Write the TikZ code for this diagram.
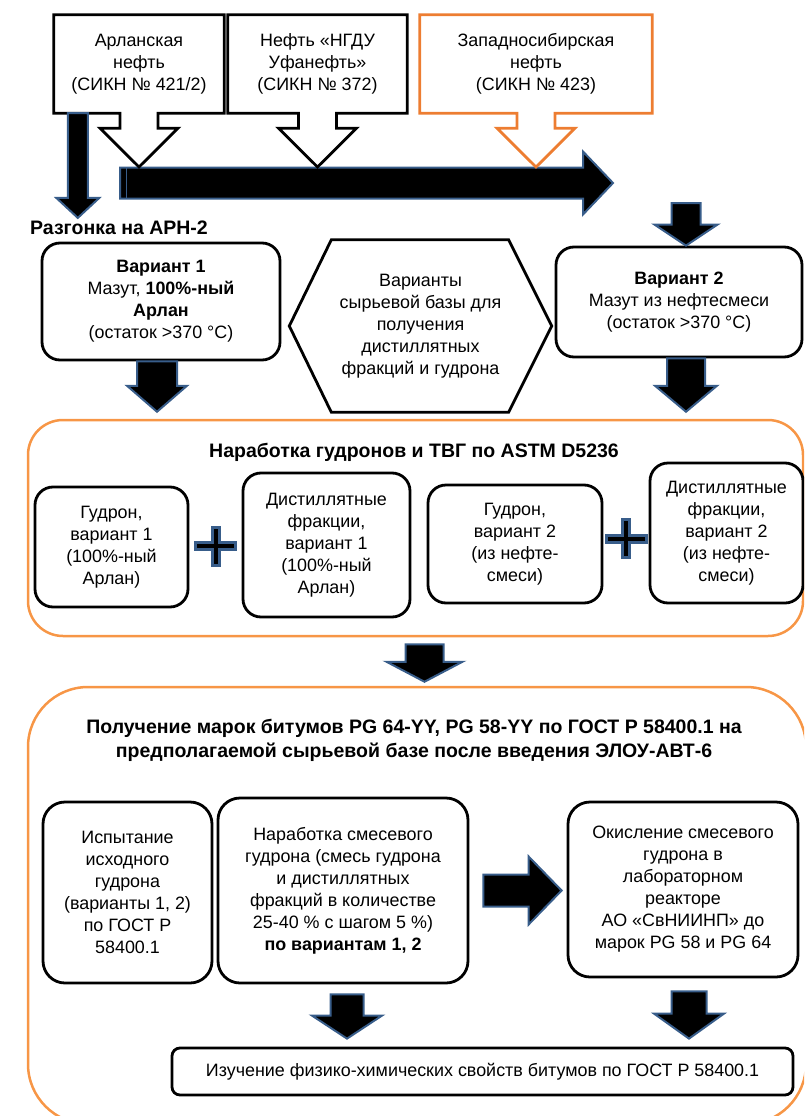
\documentclass[tikz,border=0pt]{standalone}
\usepackage{fontspec}
\setmainfont{Liberation Sans}
\usepackage{xcolor}
\usepackage{tikz}
\usetikzlibrary{positioning,calc}

\definecolor{arrblue}{RGB}{56,93,138}
\definecolor{boxorange}{RGB}{237,125,49}
\definecolor{contorange}{RGB}{247,150,70}

\newcommand{\fatdown}[5]{\draw[fatarr] let \p1=#1,\p2=#2 in (\x1-#3,\y1)--(\x1+#3,\y1)--(\x1+#3,\y2+#5)--(\x1+#4,\y2+#5)--(\x1,\y2)--(\x1-#4,\y2+#5)--(\x1-#3,\y2+#5)--cycle;}
\newcommand{\fatright}[5]{\draw[fatarr] let \p1=#1,\p2=#2 in (\x1,\y1+#3)--(\x2-#5,\y1+#3)--(\x2-#5,\y1+#4)--(\x2,\y1)--(\x2-#5,\y1-#4)--(\x2-#5,\y1-#3)--(\x1,\y1-#3)--cycle;}
\newcommand{\callout}[3]{\draw[#1] let \p1=(#2.south),\p2=#3,\p3=(#2.north west),\p4=(#2.south east) in (\x3,\y3)--(\x4,\y3)--(\x4,\y4)--(\x1+19pt,\y4)--(\x1+19pt,\y4-15pt)--(\x1+39pt,\y4-15pt)--(\x1,\y2)--(\x1-39pt,\y4-15pt)--(\x1-19pt,\y4-15pt)--(\x1-19pt,\y4)--(\x3,\y4)--cycle;}
\newcommand{\plussign}[1]{\draw[plusst] let \p1=#1 in (\x1-3.5pt,\y1-19pt)--(\x1+3.5pt,\y1-19pt)--(\x1+3.5pt,\y1-3.5pt)--(\x1+20pt,\y1-3.5pt)--(\x1+20pt,\y1+3.5pt)--(\x1+3.5pt,\y1+3.5pt)--(\x1+3.5pt,\y1+19pt)--(\x1-3.5pt,\y1+19pt)--(\x1-3.5pt,\y1+3.5pt)--(\x1-20pt,\y1+3.5pt)--(\x1-20pt,\y1-3.5pt)--(\x1-3.5pt,\y1-3.5pt)--cycle;}

\begin{document}
\begin{tikzpicture}[x=1pt,y=-1pt,every node/.style={font=\fontsize{17.9}{22}\selectfont,align=center,inner sep=0pt}]
\tikzstyle{fatarr}=[fill=black,draw=arrblue,line width=2pt,line join=miter]
\tikzstyle{plusst}=[fill=black,draw=arrblue,line width=3pt]
\tikzstyle{topbox}=[minimum height=98pt]
\tikzstyle{callst}=[draw=black,line width=2.8pt]
\tikzstyle{callor}=[draw=boxorange,line width=2.8pt]
\tikzstyle{rbox}=[draw,line width=2.8pt,rounded corners=18pt]
\tikzstyle{cont}=[draw=contorange,line width=2.5pt]
\tikzstyle{ttl}=[font=\fontsize{19.5}{24}\selectfont\bfseries]
\useasboundingbox (0,0) rectangle (804,1116);
\clip (0,0) rectangle (804,1116);

\node[cont,rounded corners=35pt,minimum width=775pt,minimum height=216pt] (cont1) at (415.5,528) {};
\node[cont,rounded corners=60pt,minimum width=778pt,minimum height=437pt] (cont2) at (417,905.5) {};

\node[topbox,minimum width=170pt] (arl) at (139,64) {Арланская\\нефть\\(СИКН № 421/2)};
\node[topbox,minimum width=179pt] (ufa) at (317.5,64) {Нефть «НГДУ\\Уфанефть»\\(СИКН № 372)};
\node[topbox,minimum width=232pt] (zsib) at (536,64) {Западносибирская\\нефть\\(СИКН № 423)};
\coordinate (mainL) at (120,183);
\coordinate (mainR) at (613,183);
\coordinate (v2in) at (686,203);
\fatright{(mainL)}{(mainR)}{15.5pt}{31.5pt}{30pt}
\draw[arrblue,line width=1pt] ($(mainL)+(6,-15)$) -- ($(mainL)+(6,15)$);
\callout{callst}{arl}{($(mainL)+(0,-16)$)}
\callout{callst}{ufa}{($(mainL)+(0,-16)$)}
\callout{callor}{zsib}{($(mainL)+(0,-16)$)}

\node[ttl,anchor=west] (razg) at (30,228) {Разгонка на АРН-2};
\fatdown{($(arl.south west)+(24,0)$)}{($(razg.north west)+(0,-3)$)}{10pt}{21.5pt}{20pt}

\node[rbox,minimum width=238pt,minimum height=117pt] (var1) at (161,301.5) {\textbf{Вариант 1}\\Мазут, \textbf{100\%-ный}\\\textbf{Арлан}\\(остаток >370 °C)};
\node[minimum width=262pt,minimum height=172pt] (hexa) at (420.5,326) {Варианты\\сырьевой базы для\\получения\\дистиллятных\\фракций и гудрона};
\draw[line width=2.8pt] let \p1=(hexa.north west),\p2=(hexa.south east),\p3=(hexa.west),\p4=(hexa.east) in (\x1+42pt,\y1)--(\x2-43pt,\y1)--(\x4,\y4)--(\x2-43pt,\y2)--(\x1+42pt,\y2)--(\x3,\y3)--cycle;
\node[rbox,minimum width=246pt,minimum height=110pt] (var2) at (679,302) {\textbf{Вариант 2}\\Мазут из нефтесмеси\\(остаток >370 °C)};
\fatdown{(v2in)}{(var2.north)}{14.5pt}{31.5pt}{21pt}

\node[ttl] (t1) at (414,452) {Наработка гудронов и ТВГ по ASTM D5236};
\fatdown{($(var1.south)+(-4,0)$)}{($(cont1.north)+(0,-7)$)}{20pt}{30pt}{26pt}
\fatdown{($(var2.south)+(7,0)$)}{($(cont1.north)+(0,-7)$)}{19pt}{31pt}{26pt}

\node[rbox,minimum width=153pt,minimum height=120pt] (g1) at (111.5,547) {Гудрон,\\вариант 1\\(100\%-ный\\Арлан)};
\node[rbox,minimum width=167pt,minimum height=144pt] (d1) at (326.5,545) {Дистиллятные\\фракции,\\вариант 1\\(100\%-ный\\Арлан)};
\node[rbox,minimum width=174pt,minimum height=118pt] (g2) at (515,544) {Гудрон,\\вариант 2\\(из нефте-\\смеси)};
\node[rbox,minimum width=153pt,minimum height=140pt] (d2) at (726.5,533) {Дистиллятные\\фракции,\\вариант 2\\(из нефте-\\смеси)};
\plussign{($(g1.east)!0.5!(d1.west)$)}
\plussign{($(g2.east)!0.5!(d2.west)$)}

\fatdown{($(cont1.south)+(9,7)$)}{($(cont2.north)+(0,-4)$)}{19pt}{38pt}{20pt}
\node[ttl] (t2) at (414,740) {Получение марок битумов PG 64-YY, PG 58-YY по ГОСТ Р 58400.1 на\\предполагаемой сырьевой базе после введения ЭЛОУ-АВТ-6};

\node[rbox,rounded corners=22pt,minimum width=169pt,minimum height=181pt] (isp) at (127.5,892.5) {Испытание\\исходного\\гудрона\\(варианты 1, 2)\\по ГОСТ Р\\58400.1};
\node[rbox,rounded corners=22pt,minimum width=250pt,minimum height=185pt] (nar) at (343,890.5) {Наработка смесевого\\гудрона (смесь гудрона\\и дистиллятных\\фракций в количестве\\25-40 \% с шагом 5 \%)\\\textbf{по вариантам 1, 2}};
\node[rbox,rounded corners=22pt,minimum width=230pt,minimum height=175pt] (oks) at (683,889.5) {Окисление смесевого\\гудрона в\\лабораторном\\реакторе\\АО «СвНИИНП» до\\марок PG 58 и PG 64};
\node[rbox,rounded corners=8pt,minimum width=621pt,minimum height=47pt] (res) at (482.5,1071.5) {Изучение физико-химических свойств битумов по ГОСТ Р 58400.1};
\fatright{($(nar.east)+(14,0)$)}{($(oks.west)+(-5,0)$)}{16pt}{34pt}{33pt}
\fatdown{($(nar.south)+(4,10)$)}{($(res.north)+(0,-8)$)}{16.5pt}{35pt}{23pt}
\fatdown{($(oks.south)+(6,13)$)}{($(res.north)+(0,-8)$)}{17.5pt}{35pt}{25pt}
\end{tikzpicture}
\end{document}
